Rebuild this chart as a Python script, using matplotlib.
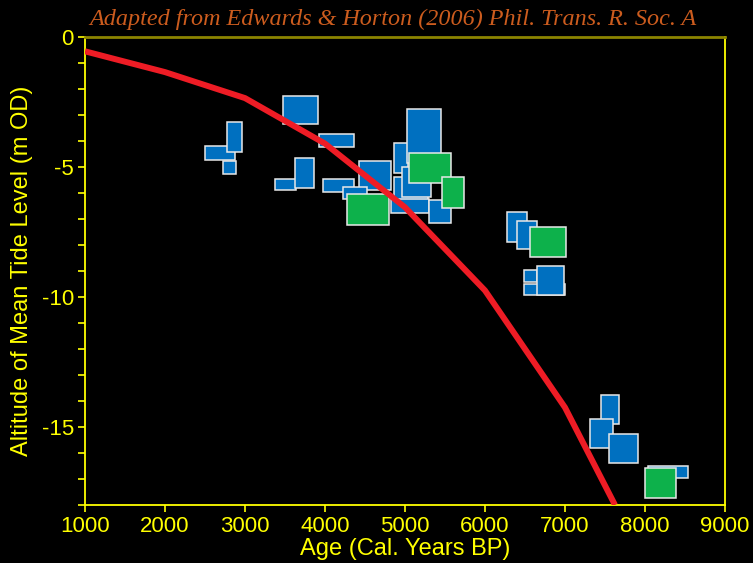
import matplotlib
matplotlib.use("Agg")
import matplotlib.pyplot as plt
from matplotlib.patches import Rectangle
from matplotlib.ticker import MultipleLocator

plt.rcParams["axes.unicode_minus"] = False

# sea-level curve (age in cal. years BP, altitude in m OD)
curve_age = [1000, 2000, 3000, 4000, 5000, 6000, 7000, 7625]
curve_level = [-0.55, -1.35, -2.35, -4.1, -6.55, -9.75, -14.25, -18.0]

# sea-level index points as age/altitude boxes (blue)
blue_age_min = [2500, 2775, 2725, 3475, 3375, 3625, 3925, 4425, 3975, 4225,
                4862, 5025, 4862, 4962, 4825, 5300, 6275, 6400, 6487, 6487,
                6650, 7450, 7312, 7550, 8037]
blue_age_max = [2875, 2962, 2887, 3912, 3637, 3862, 4362, 4825, 4362, 4525,
                5037, 5450, 5287, 5325, 5300, 5575, 6525, 6650, 6650, 7000,
                6987, 7675, 7600, 7912, 8537]
blue_top = [-4.19, -3.27, -4.77, -2.27, -5.46, -4.65, -3.73, -4.77, -5.46, -5.77,
            -4.08, -2.77, -5.38, -5.0, -6.23, -6.27, -6.73, -7.08, -8.96, -9.5,
            -8.81, -13.77, -14.69, -15.27, -16.5]
blue_bottom = [-4.73, -4.42, -5.27, -3.35, -5.88, -5.81, -4.23, -5.88, -5.96, -6.23,
               -5.23, -4.85, -6.46, -6.15, -6.77, -7.15, -7.88, -8.15, -9.42, -9.92,
               -9.92, -14.88, -15.81, -16.38, -16.96]

# green boxes
green_age_min = [4275, 5050, 5462, 6562, 8000]
green_age_max = [4800, 5575, 5737, 7012, 8387]
green_top = [-6.04, -4.46, -5.38, -7.31, -16.58]
green_bottom = [-7.23, -5.62, -6.58, -8.46, -17.73]

yellow = "#ffff00"
sans = "Liberation Sans"

fig = plt.figure(figsize=(7.53, 5.63), dpi=100, facecolor="black")
ax = fig.add_axes([85/753, 1 - 505/563, 640/753, 468/563], facecolor="black")


def add_boxes(a0, a1, top, bottom, color):
    for x0, x1, yt, yb in zip(a0, a1, top, bottom):
        ax.add_patch(Rectangle((x0, yb), x1 - x0, yt - yb, facecolor=color,
                               edgecolor="#e8e8e8", linewidth=1.1, zorder=2))


add_boxes(blue_age_min, blue_age_max, blue_top, blue_bottom, "#0070c0")
add_boxes(green_age_min, green_age_max, green_top, green_bottom, "#0db14b")

ax.plot(curve_age, curve_level, color="#ee1c25", linewidth=4.3,
        solid_capstyle="butt", zorder=3)

ax.set_xlim(1000, 9000)
ax.set_ylim(-18, 0)
ax.xaxis.set_major_locator(MultipleLocator(1000))
ax.yaxis.set_major_locator(MultipleLocator(5))
ax.yaxis.set_minor_locator(MultipleLocator(1))

for side in ["left", "bottom", "right"]:
    ax.spines[side].set_color(yellow)
    ax.spines[side].set_linewidth(1.3)
ax.spines["top"].set_color("#8c8400")
ax.spines["top"].set_linewidth(2)

ax.tick_params(axis="both", which="both", colors=yellow, direction="out")
ax.tick_params(axis="both", which="major", length=5, width=1.2, pad=3)
ax.tick_params(axis="y", which="minor", length=5, width=1.2)
for lab in ax.get_xticklabels() + ax.get_yticklabels():
    lab.set_fontfamily(sans)
    lab.set_fontsize(16)

ax.set_xlabel("Age (Cal. Years BP)", color=yellow, fontsize=17, family=sans)
ax.set_ylabel("Altitude of Mean Tide Level (m OD)", color=yellow, fontsize=17,
              family=sans)
ax.xaxis.set_label_coords(0.5, -0.07)
ax.yaxis.set_label_coords(-0.082, 0.5)

fig.text(0.522, 0.965, "Adapted from Edwards & Horton (2006) Phil. Trans. R. Soc. A",
         color="#cc5c1e", fontsize=17.4, family="Liberation Serif", style="italic",
         ha="center", va="center")

fig.savefig("out.png", dpi=100, facecolor="black")
